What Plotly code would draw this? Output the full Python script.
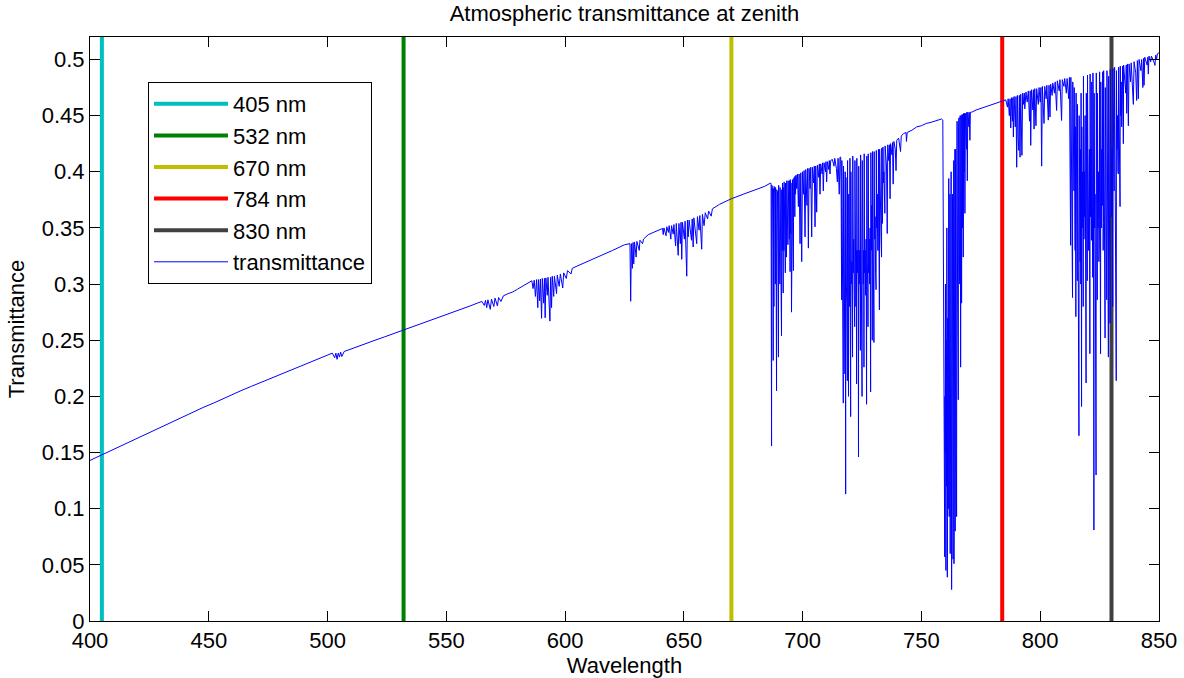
import plotly.graph_objects as go

# ---------------- data ----------------
# laser lines (nm)
laser_nm = [405, 532, 670, 784, 830]
laser_names = ["405 nm", "532 nm", "670 nm", "784 nm", "830 nm"]
laser_colors = ["#00BFBF", "#008000", "#BFBF00", "#FF0000", "#404040"]
y_top = 0.52

# transmittance spectrum, split into wavelength segments
wl_400_585 = [400, 404, 408, 412, 416, 420, 424, 428, 432, 436, 440, 444, 448, 452, 456,
              460, 464, 468, 472, 476, 480, 484, 488, 492, 496, 500, 502, 503, 503.5, 504,
              504.5, 505, 505.5, 506, 507, 509, 512, 516, 520, 524, 528, 532, 536, 540, 544,
              548, 552, 556, 560, 563, 565, 566, 566.5, 567, 567.5, 568.5, 569, 570, 570.5,
              571.5, 572, 573, 574, 576, 578, 580, 582, 584]
t_400_585 = [.143, .147, .151, .155, .159, .163, .167, .171, .175, .179, .183, .1865, .1905, .194, .198,
             .2015, .2055, .209, .2125, .216, .2195, .223, .2265, .230, .2335, .237, .2385, .2345, .2385, .233,
             .2385, .235, .2395, .2355, .240, .2415, .244, .247, .250, .253, .256, .2595, .2625, .2655, .2685,
             .2715, .2745, .2775, .2805, .283, .2845, .281, .2855, .279, .286, .2775, .2865, .280, .2875,
             .2805, .288, .2845, .2895, .2915, .293, .2955, .298, .3005]

wl_585_640 = [585, 586, 586.5, 587, 587.5, 588, 588.5, 588.8, 589.3, 589.6, 590.1, 590.4, 591, 591.3,
              591.6, 591.9, 592.5, 592.8, 593.6, 593.9, 594.3, 594.6, 595.2, 595.5, 596.4, 596.7, 597.5,
              598, 599, 599.4, 600.5, 601, 602.5, 603, 605, 610, 615, 620, 625, 627.3, 627.6, 627.9,
              628.3, 628.6, 628.9, 629.2, 629.9, 630.2, 631.2, 631.5, 632.6, 633, 635, 638]
t_585_640 = [.302, .303, .296, .3035, .289, .304, .279, .304, .285, .3045, .2695, .305, .283, .305,
             .270, .3055, .290, .306, .267, .306, .279, .307, .289, .307, .2915, .308, .298,
             .309, .2965, .310, .305, .312, .309, .314, .316, .3205, .325, .330, .335, .336, .2847, .336,
             .314, .337, .318, .3375, .324, .338, .330, .339, .336, .340, .344, .347]

wl_640_686 = [640, 641, 641.3, 641.6, 642.5, 642.8, 643.5, 643.8, 644.5, 644.8, 645.5, 645.8, 646.5,
              646.8, 647.6, 647.9, 648.5, 648.8, 649.1, 649.4, 650.2, 650.5, 651.2, 651.5, 651.8, 652.2,
              653.2, 653.5, 653.9, 654.2, 655.4, 655.7, 656.4, 656.7, 657.5, 657.8, 658.5, 659, 660,
              660.4, 661.5, 662, 665, 670, 675, 680, 684]
t_640_686 = [.349, .3495, .344, .350, .343, .351, .346, .352, .340, .352, .3445, .353, .334,
             .354, .3256, .354, .336, .355, .322, .355, .340, .356, .307, .357, .342, .357,
             .339, .358, .333, .359, .336, .360, .348, .361, .331, .362, .352, .3635, .358,
             .365, .3605, .367, .371, .376, .380, .384, .387]

wl_b_band = [686.5, 686.7, 686.9, 687.0, 687.2, 687.3, 687.5, 687.6, 687.7, 687.9, 688.0, 688.2,
             688.3, 688.5, 688.6, 688.8, 689.0, 689.1, 689.3, 689.4, 689.6, 689.8, 689.9, 690.1,
             690.2, 690.4, 690.5, 690.7, 690.9, 691.1, 691.2, 691.4, 691.5, 691.6, 691.8, 691.9,
             692.1, 692.2, 692.4, 692.5, 692.7, 692.8, 693.0, 693.2, 693.3, 693.5, 693.6, 693.8,
             693.9, 694.1, 694.2, 694.4, 694.5, 694.7, 694.8, 695.0, 695.1, 695.3, 695.4, 695.6,
             695.7, 695.9, 696.1, 696.2, 696.4, 696.5, 696.7, 696.8, 697.0, 697.2,
             697.5, 697.8, 698.2, 698.5, 698.9, 699.2,
             699.6, 699.9, 700.3, 700.6, 701.0, 701.3, 701.8, 702.1, 702.4, 702.7, 703.1, 703.4, 703.8,
             704.1, 704.6, 704.9, 705.2, 705.5, 705.9, 706.2, 706.8, 707.0, 707.3, 707.6, 708.2, 708.4,
             708.7, 709.0, 709.6, 709.8, 710.1, 710.4, 711.0, 711.2, 711.5, 711.8, 712.5, 713.2, 713.5,
             714.2, 714.6, 714.9, 715.4, 715.7]
t_b_band = [.390, .389, .156, .388, .300, .386, .330, .232, .385, .280, .387, .320,
            .380, .300, .386, .340, .205, .384, .290, .382, .320, .235, .388, .310,
            .380, .300, .386, .330, .300, .254, .384, .330, .390, .310, .292, .386,
            .330, .391, .345, .388, .310, .390, .340, .324, .392, .350, .389, .335,
            .392, .360, .390, .340, .392, .311, .393, .345, .390, .275, .392, .355,
            .393, .340, .312, .394, .370, .395, .360, .396, .380, .397,
            .385, .398, .369, .398, .336, .399,
            .320, .400, .380, .401, .342, .402, .370, .403, .332, .403, .385, .404, .342,
            .404, .390, .405, .351, .405, .364, .406, .395, .407, .380, .407, .398, .408,
            .383, .408, .400, .409, .391, .409, .402, .410, .398, .410, .411, .405, .412,
            .403, .391, .412, .380, .413]

wl_water_720 = [716.0, 716.2, 716.4, 716.5, 716.7, 716.9, 717.1, 717.2, 717.4, 717.6, 717.8, 717.9,
                718.1, 718.2, 718.4, 718.6, 718.8, 718.9, 719.1, 719.3, 719.4, 719.6, 719.8, 719.9,
                720.0, 720.2, 720.3, 720.5, 720.7, 720.9, 721.0, 721.1, 721.3, 721.5, 721.7, 721.9,
                722.0, 722.2, 722.4, 722.6, 722.7, 722.8, 723.0, 723.2, 723.4, 723.5, 723.6, 723.8,
                724.0, 724.2, 724.3, 724.4, 724.6, 724.8, 725.0, 725.1, 725.3, 725.5, 725.7, 725.8,
                725.9, 726.1, 726.3, 726.5, 726.7, 726.9, 727.0, 727.2, 727.4, 727.5, 727.6, 727.8,
                728.0, 728.2, 728.4, 728.6, 728.7, 728.9, 729.1, 729.3, 729.4, 729.6, 729.8, 730.0,
                730.1, 730.3, 730.5, 730.7, 730.9, 731.0, 731.2, 731.4, 731.6, 731.8, 731.9, 732.1,
                732.3, 732.4, 732.6, 732.8, 733.0, 733.2, 733.3, 733.5, 733.6, 733.8, 734.0, 734.2,
                734.4, 734.6, 734.7,
                735.3, 735.6, 735.8, 736.2, 736.5, 736.8, 737.0, 737.6, 737.8, 738.1, 738.4,
                739.0, 739.3, 739.6, 740.4, 741.2, 741.5, 742.5, 743.5, 743.7, 744.0, 746, 748, 750,
                752, 754, 756, 758, 758.5]
t_water_720 = [.413, .380, .286, .410, .330, .320, .194, .405, .300, .260, .220, .400,
               .113, .395, .300, .280, .214, .410, .290, .200, .380, .310, .280, .412,
               .300, .182, .400, .300, .320, .270, .235, .414, .310, .340, .290, .262,
               .410, .300, .280, .330, .211, .412, .310, .330, .290, .146, .405, .300,
               .330, .290, .241, .415, .300, .280, .200, .410, .320, .300, .330, .226,
               .416, .310, .330, .290, .340, .193, .414, .320, .300, .262, .416, .310,
               .340, .300, .350, .204, .417, .330, .370, .250, .418, .320, .330, .248,
               .418, .340, .360, .310, .295, .419, .350, .380, .330, .330, .420, .360,
               .277, .420, .370, .390, .340, .324, .421, .380, .354, .422, .390, .400,
               .370, .363, .423,
               .405, .345, .424, .410, .424, .376, .425, .415, .426, .389, .427,
               .420, .401, .428, .430, .418, .432, .434, .435, .427, .435, .437, .440, .441,
               .443, .444, .4455, .4468, .447]

wl_a_band = [759.0, 759.2, 759.3, 759.5, 759.6, 759.8, 759.9, 760.0, 760.1, 760.3, 760.4, 760.6,
             760.7, 760.9, 761.0, 761.1, 761.2, 761.3, 761.4, 761.5, 761.6, 761.7, 761.8, 761.9,
             762.0, 762.1, 762.2, 762.4, 762.5, 762.7, 762.8, 763.0, 763.1, 763.3, 763.4, 763.5,
             763.6, 763.7, 763.8, 764.0, 764.1, 764.2, 764.3, 764.4, 764.6, 764.8, 764.9, 765.0,
             765.2, 765.5, 765.6, 765.8, 765.9, 766.1, 766.2, 766.3, 766.5, 766.6, 766.7, 766.9,
             767.0, 767.1, 767.3, 767.4, 767.6, 767.7, 767.8, 768.0, 768.1, 768.3, 768.4, 768.5,
             768.8, 769.0, 769.1, 769.3, 769.5, 769.8, 770.0, 770.1, 770.4, 770.6, 771.1, 773, 775,
             777, 779, 781, 783]
t_a_band = [.446, .300, .200, .180, .100, .057, .200, .150, .300, .045, .250, .120,
            .350, .039, .200, .270, .120, .100, .300, .394, .150, .093, .350, .200,
            .380, .060, .300, .150, .400, .028, .250, .140, .380, .055, .300, .250,
            .410, .051, .300, .200, .420, .080, .350, .420, .150, .093, .400, .445,
            .300, .197, .440, .448, .350, .300, .445, .450, .226, .420, .450, .283,
            .440, .451, .350, .451, .324, .440, .452, .400, .452, .363, .440, .452,
            .430, .420, .453, .392, .453, .445, .440, .453, .428, .453, .453, .455, .4565,
            .458, .4595, .461, .4625]

wl_784_812 = [784.4, 785.5, 786.2, 786.5, 787.0, 787.3, 787.6, 787.9, 788.3, 788.5, 788.7, 789.0,
              789.5, 789.8, 790.1, 790.4, 790.7, 791.0, 791.2, 791.5, 791.8, 792.0, 792.3, 792.6,
              793.0, 793.3, 793.5, 794.0, 794.5, 795.0, 795.5, 795.8, 796.0, 796.3, 796.9, 797.1,
              797.4, 797.7, 798.2, 798.5, 799.2, 799.5, 800.0, 800.3, 800.6, 800.9, 801.3, 801.6,
              801.9, 802.5, 802.8, 803.4, 803.7, 804.1, 804.4, 805.0, 805.3, 806.0, 806.3, 806.9,
              807.2, 808.0, 808.3, 809.0, 809.3, 810.0, 810.3, 811.0, 811.3, 812.0]
t_784_812 = [.4635, .464, .4576, .465, .450, .465, .439, .466, .445, .466, .431, .467,
             .440, .467, .404, .468, .430, .419, .468, .413, .469, .440, .4146, .470,
             .460, .470, .456, .471, .462, .472, .445, .472, .4235, .473, .455, .473,
             .438, .474, .441, .474, .460, .475, .462, .475, .405, .476, .455, .443,
             .476, .465, .477, .446, .477, .4487, .478, .468, .479, .470, .480, .4546,
             .481, .472, .482, .4457, .482, .476, .483, .470, .483, .465]

wl_water_820 = [812.3, 812.5, 812.8, 812.9, 813.1, 813.3, 813.5, 813.6, 813.7, 813.9, 814.0, 814.2,
                814.3, 814.5, 814.7, 814.8, 815.0, 815.1, 815.3, 815.4, 815.6, 815.7, 815.9, 816.0,
                816.2, 816.3, 816.4, 816.6, 816.8, 816.9, 817.1, 817.2, 817.4, 817.5, 817.7, 817.9,
                818.1, 818.2, 818.4, 818.6, 818.7, 818.9, 819.1, 819.3, 819.4, 819.6, 819.8, 819.9,
                820.1, 820.3, 820.5, 820.7, 820.9, 821.0, 821.2, 821.4, 821.6, 821.7, 821.9, 822.1,
                822.2, 822.4, 822.6, 822.7, 822.9, 823.1, 823.3, 823.5, 823.6, 823.8, 824.0, 824.1,
                824.3, 824.5, 824.7, 824.9, 825.0, 825.2, 825.4, 825.5, 825.7, 825.9, 826.1, 826.3,
                826.5, 826.6, 826.7, 826.9, 827.1, 827.3, 827.4, 827.6, 827.8, 828.0, 828.1, 828.3,
                828.5, 828.7, 828.8, 829.0, 829.2, 829.4, 829.5, 829.7, 829.9, 830.1, 830.3, 830.5,
                830.6, 830.8, 831.0, 831.1, 831.3, 831.5, 831.7, 832.0, 832.1, 832.3, 832.5, 832.7,
                832.9, 833.0, 833.2, 833.4, 833.6, 833.7, 833.9, 834.1, 834.3, 834.5, 834.7, 835.0,
                835.1, 836.0, 836.2, 836.4, 836.7, 837.1, 837.4, 838.0, 838.3, 839.2, 839.5, 840.2,
                840.6, 840.9, 841.3, 841.6, 842.4, 842.7, 843.2, 843.5, 843.7, 844.0, 845.0, 845.3,
                845.5, 845.8, 846.5, 846.8, 848.0, 848.3, 848.6, 849.0, 849.3, 850.0]
t_water_820 = [.484, .440, .3345, .484, .400, .420, .350, .288, .480, .400, .440, .383,
               .475, .350, .330, .440, .271, .470, .380, .420, .303, .460, .350, .380,
               .300, .165, .450, .350, .320, .420, .300, .470, .191, .440, .350, .400,
               .280, .485, .340, .400, .360, .450, .330, .212, .470, .350, .303, .486,
               .400, .330, .380, .420, .238, .487, .360, .420, .339, .480, .380, .306,
               .488, .400, .081, .470, .350, .380, .300, .130, .488, .400, .286, .470,
               .350, .400, .320, .339, .489, .380, .238, .480, .350, .420, .370, .489,
               .330, .354, .490, .380, .420, .252, .475, .350, .400, .286, .490, .360,
               .420, .235, .485, .380, .420, .265, .491, .400, .440, .360, .420, .280,
               .492, .420, .450, .383, .493, .400, .440, .214, .490, .420, .450, .400,
               .398, .493, .440, .470, .369, .494, .450, .480, .440, .460, .494, .425,
               .495, .470, .495, .452, .496, .441, .496, .480, .497, .460, .498, .488,
               .4635, .499, .465, .500, .490, .500, .475, .501, .477, .502, .495, .502,
               .487, .503, .498, .503, .497, .4947, .504, .500, .505, .506]

wavelength = (wl_400_585 + wl_585_640 + wl_640_686 + wl_b_band + wl_water_720
              + wl_a_band + wl_784_812 + wl_water_820)
transmittance = (t_400_585 + t_585_640 + t_640_686 + t_b_band + t_water_720
                 + t_a_band + t_784_812 + t_water_820)

# ---------------- figure ----------------
FONT = "Liberation Sans, Arial, Helvetica, sans-serif"
FS = 22
fig = go.Figure()

for i, (nm, name, col) in enumerate(zip(laser_nm, laser_names, laser_colors)):
    fig.add_trace(go.Scatter(
        x=[nm, nm], y=[0, y_top], mode="lines", name=name,
        legendgroup=f"g{i}", line=dict(color=col, width=4), hoverinfo="skip"))

fig.add_trace(go.Scatter(
    x=wavelength, y=transmittance, mode="lines", name="transmittance",
    legendgroup="gt", line=dict(color="#0000FF", width=1)))

axis_common = dict(
    showgrid=False, zeroline=False, showline=True, linecolor="black", linewidth=1,
    mirror="allticks", ticks="inside", ticklen=10, tickcolor="black", tickwidth=1,
    tickfont=dict(family=FONT, size=FS, color="black"), automargin=False,
)

fig.update_layout(
    width=1184, height=678,
    margin=dict(l=90, r=25, t=37, b=57),
    paper_bgcolor="white", plot_bgcolor="white",
    font=dict(family=FONT, size=FS, color="black"),
    title=dict(text="Atmospheric transmittance at zenith", x=0.5, xref="paper",
               y=1 - 13 / 678, yref="container", yanchor="middle", xanchor="center",
               font=dict(family=FONT, size=FS, color="black")),
    xaxis=dict(range=[400, 850], dtick=50, tick0=400,
               title=dict(text="Wavelength", standoff=3, font=dict(family=FONT, size=FS)),
               **axis_common),
    yaxis=dict(range=[0, y_top], dtick=0.05, tick0=0,
               title=dict(text="Transmittance", standoff=11, font=dict(family=FONT, size=FS)),
               **axis_common),
    legend=dict(x=(148 - 90) / 1069, y=(621 - 82) / 584, xanchor="left", yanchor="top",
                bgcolor="white", bordercolor="black", borderwidth=1,
                font=dict(family=FONT, size=FS, color="black"),
                traceorder="grouped", tracegroupgap=0, itemwidth=74),
    showlegend=True,
)

fig.write_html("out.html", config={"displayModeBar": False},
               post_script="document.body.style.margin='0';document.body.style.overflow='hidden';")
